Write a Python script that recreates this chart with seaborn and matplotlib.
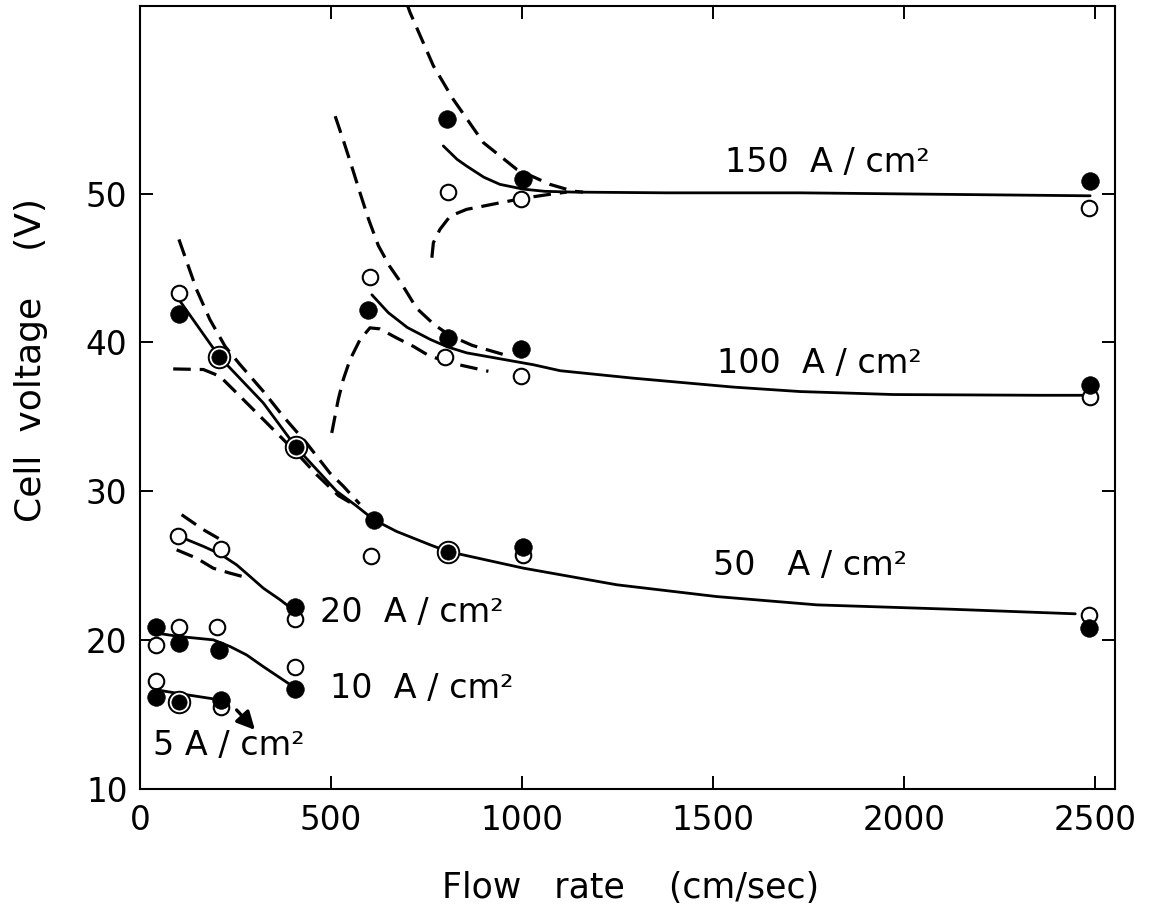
import matplotlib
matplotlib.use("Agg")
import matplotlib.pyplot as plt
import seaborn as sns

# ---------------- measured points (flow rate [cm/sec], cell voltage [V]) ----------------
# "open" = open circles, "fill" = filled circles, "both" = filled circle with a ring
a5_open_x, a5_open_y = [42, 211], [17.26, 15.53]
a5_fill_x, a5_fill_y = [42, 211], [16.21, 15.99]
a5_both_x, a5_both_y = [103], [15.87]

a10_open_x, a10_open_y = [42, 103, 202, 406], [19.68, 20.87, 20.87, 18.22]
a10_fill_x, a10_fill_y = [42, 103, 208, 406], [20.91, 19.80, 19.35, 16.70]

a20_open_x, a20_open_y = [99, 211, 406], [27.01, 26.14, 21.41]
a20_fill_x, a20_fill_y = [406], [22.26]

a50_open_x, a50_open_y = [102, 604, 1003, 2485], [43.33, 25.67, 25.75, 21.70]
a50_fill_x, a50_fill_y = [102, 612, 1003, 2485], [41.88, 28.09, 26.29, 20.80]
a50_both_x, a50_both_y = [208, 408, 805], [39.03, 32.98, 25.93]

a100_open_x, a100_open_y = [602, 798, 997, 2487], [44.41, 39.00, 37.73, 36.34]
a100_fill_x, a100_fill_y = [598, 805, 997, 2487], [42.21, 40.30, 39.57, 37.17]

a150_open_x, a150_open_y = [805, 997, 2483], [50.10, 49.61, 49.05]
a150_fill_x, a150_fill_y = [803, 1002, 2487], [55.03, 50.96, 50.84]

# ---------------- curves ----------------
c5_x, c5_y = [44, 105, 209], [16.66, 16.40, 15.99]
c10_x = [44, 105, 192, 236, 279, 323, 401]
c10_y = [20.47, 20.24, 20.02, 19.57, 19.01, 18.22, 16.88]
c20_x = [99, 113, 166, 209, 253, 288, 323, 367, 401]
c20_y = [27.01, 26.86, 26.30, 25.80, 25.06, 24.28, 23.49, 22.71, 22.04]
d20u_x, d20u_y = [109, 166, 227], [28.43, 27.42, 26.52]
d20l_x, d20l_y = [96, 148, 192, 236, 275], [26.07, 25.51, 24.83, 24.50, 24.23]

c50_x = [105, 208, 323, 408, 515, 565, 612, 672, 759, 805, 1003, 1248, 1509, 1772, 2121, 2448]
c50_y = [42.77, 39.03, 35.93, 32.98, 30.00, 29.05, 28.09, 27.30, 26.41, 25.96, 24.84, 23.72,
         22.93, 22.37, 22.08, 21.77]
d50u_x = [102, 148, 183, 223, 262, 323, 375, 436, 497, 532, 575]
d50u_y = [46.92, 43.56, 41.54, 39.73, 38.51, 36.71, 35.03, 33.24, 31.23, 30.35, 29.15]
d50l_x = [87, 166, 209, 253, 323, 410, 463, 520, 570]
d50l_y = [38.22, 38.18, 37.73, 36.61, 34.82, 32.58, 31.10, 29.70, 28.95]

c100_x = [607, 650, 700, 760, 805, 855, 1030, 1100, 1291, 1553, 1728, 1972, 2356, 2482]
c100_y = [43.20, 42.00, 41.00, 40.20, 39.70, 39.30, 38.50, 38.10, 37.60, 37.00, 36.70,
          36.50, 36.45, 36.45]
d100u_x = [511, 532, 554, 576, 598, 624, 654, 681, 724, 770, 812, 870, 950]
d100u_y = [55.20, 53.60, 51.85, 50.05, 48.30, 46.50, 45.10, 44.10, 42.30, 41.20, 40.45,
           39.80, 39.20]
d100l_x = [502, 519, 532, 550, 576, 602, 628, 672, 716, 759, 835, 912]
d100l_y = [33.92, 36.16, 37.50, 38.85, 40.19, 40.98, 40.91, 40.30, 39.73, 39.07, 38.50, 38.06]

c150_x = [794, 830, 855, 900, 942, 1003, 1060, 1134, 1379, 1728, 2100, 2487]
c150_y = [53.20, 52.30, 51.85, 51.10, 50.62, 50.30, 50.15, 50.10, 50.05, 50.05, 49.95, 49.85]
d150u_x = [698, 707, 768, 820, 899, 986, 1073, 1134, 1160]
d150u_y = [62.80, 62.16, 58.58, 56.33, 53.42, 51.63, 50.62, 50.16, 50.10]
d150l_x = [764, 768, 785, 812, 855, 899, 942, 1012, 1073, 1117]
d150l_y = [45.69, 46.70, 47.59, 48.49, 48.94, 49.16, 49.38, 49.72, 49.95, 50.10]

# arrow below the 5 A/cm2 curve (tail -> head)
arrow_tail = (253, 15.31)
arrow_head = (301, 13.97)

# curve labels: text, x, y (baseline)
labels = [
    ("150  A / cm²", 1532, 51.43),
    ("100  A / cm²", 1511, 37.98),
    ("50   A / cm²", 1500, 24.39),
    ("20  A / cm²", 471, 21.23),
    ("10  A / cm²", 497, 16.12),
    ("5 A / cm²", 34, 12.29),
]

x_ticks = [0, 500, 1000, 1500, 2000, 2500]
y_ticks = [10, 20, 30, 40, 50]
x_label = "Flow   rate    (cm/sec)"
y_label = "Cell  voltage    (V)"

# ---------------- drawing ----------------
sns.set_theme(style="ticks")
plt.rcParams["font.family"] = ["DejaVu Sans"]

fig = plt.figure(figsize=(11.51, 9.11), dpi=100)
ax = fig.add_axes([0.1216, 0.1339, 0.8471, 0.8595])

solid_kw = dict(color="black", linewidth=2.0, estimator=None, sort=False, zorder=2)
dash_kw = dict(color="black", linewidth=2.3, estimator=None, sort=False, zorder=2,
               linestyle=(0, (5.5, 2.8)))

for xs, ys in [(c5_x, c5_y), (c10_x, c10_y), (c20_x, c20_y), (c50_x, c50_y),
               (c100_x, c100_y), (c150_x, c150_y)]:
    sns.lineplot(x=xs, y=ys, ax=ax, **solid_kw)
for xs, ys in [(d20u_x, d20u_y), (d20l_x, d20l_y), (d50u_x, d50u_y), (d50l_x, d50l_y),
               (d100u_x, d100u_y), (d100l_x, d100l_y), (d150u_x, d150u_y),
               (d150l_x, d150l_y)]:
    sns.lineplot(x=xs, y=ys, ax=ax, **dash_kw)


def open_pts(xs, ys):
    sns.scatterplot(x=xs, y=ys, ax=ax, s=125, color="white", edgecolor="black",
                    linewidth=1.5, zorder=4, legend=False)


def fill_pts(xs, ys):
    sns.scatterplot(x=xs, y=ys, ax=ax, s=160, color="black", edgecolor="black",
                    linewidth=0.5, zorder=5, legend=False)


def both_pts(xs, ys):
    sns.scatterplot(x=xs, y=ys, ax=ax, s=240, color="white", edgecolor="black",
                    linewidth=1.4, zorder=5, legend=False)
    sns.scatterplot(x=xs, y=ys, ax=ax, s=120, color="black", edgecolor="black",
                    linewidth=0.5, zorder=6, legend=False)


for ox, oy in [(a5_open_x, a5_open_y), (a10_open_x, a10_open_y), (a20_open_x, a20_open_y),
               (a50_open_x, a50_open_y), (a100_open_x, a100_open_y),
               (a150_open_x, a150_open_y)]:
    open_pts(ox, oy)
for fx, fy in [(a5_fill_x, a5_fill_y), (a10_fill_x, a10_fill_y), (a20_fill_x, a20_fill_y),
               (a50_fill_x, a50_fill_y), (a100_fill_x, a100_fill_y),
               (a150_fill_x, a150_fill_y)]:
    fill_pts(fx, fy)
both_pts(a5_both_x, a5_both_y)
both_pts(a50_both_x, a50_both_y)

ax.annotate("", xy=arrow_head, xytext=arrow_tail,
            arrowprops=dict(arrowstyle="-|>,head_length=0.9,head_width=0.45",
                            color="black", lw=2.4, shrinkA=0, shrinkB=0))

for txt, tx, ty in labels:
    ax.text(tx, ty, txt, fontsize=24, ha="left", va="baseline", color="black")

ax.set_xlim(0, 2552)
ax.set_ylim(10, 62.6)
ax.set_xticks(x_ticks)
ax.set_yticks(y_ticks)
ax.tick_params(axis="both", direction="in", length=9.5, width=1.4, top=True, right=True,
               labelsize=23.5, colors="black")
ax.tick_params(axis="x", pad=11)
ax.tick_params(axis="y", pad=9)
for sp in ax.spines.values():
    sp.set_linewidth(1.5)
    sp.set_color("black")
ax.grid(False)

ax.set_xlabel(x_label, fontsize=25, color="black")
ax.set_ylabel(y_label, fontsize=26, color="black")
ax.xaxis.set_label_coords(0.503, -0.105)
ax.yaxis.set_label_coords(-0.094, 0.548)

fig.savefig("out.png", dpi=100, facecolor="white")
